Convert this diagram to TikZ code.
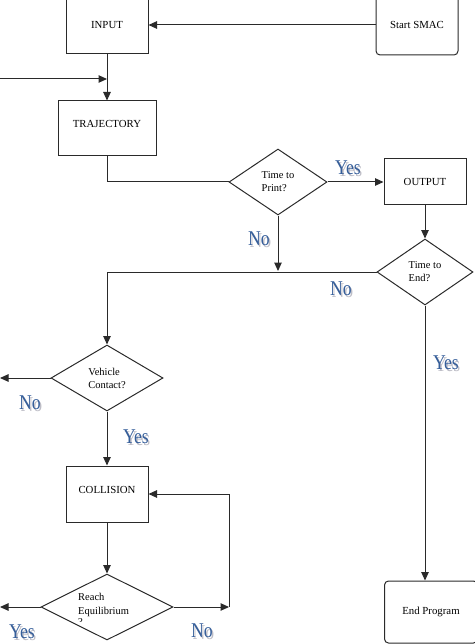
\documentclass[tikz,border=0pt]{standalone}
\usepackage{fontspec}
\setmainfont{Liberation Serif}
\usetikzlibrary{arrows.meta,shapes.geometric}
\definecolor{ln}{HTML}{2A2A2A}
\definecolor{wablue}{HTML}{355E9A}
\definecolor{washadow}{HTML}{BDBDC6}
\begin{document}
\begin{tikzpicture}[x=1pt,y=-1pt,
  every node/.style={font=\fontsize{10.8}{13}\selectfont, text=black},
  box/.style={draw=ln, line width=1pt, rectangle, inner sep=0pt, text height=7.5pt, text depth=8.5pt},
  cbox/.style={draw=ln, line width=1pt, rectangle, inner sep=0pt},
  rbox/.style={draw=ln, line width=1pt, rectangle, rounded corners=4pt, inner sep=0pt},
  dia/.style={draw=ln, line width=1pt, diamond, inner sep=0pt, align=left, font=\fontsize{10.5}{13}\selectfont},
  conn/.style={draw=ln, line width=1pt},
  arr/.style={conn, -{Triangle[length=8.5pt,width=7.5pt]}},
  yn/.style={font=\fontsize{21}{21}\selectfont, text=wablue, xscale=0.84, inner sep=0pt},
  ynsh/.style={font=\fontsize{21}{21}\selectfont, text=washadow, xscale=0.84, inner sep=0pt},
]
\useasboundingbox (0,0) rectangle (474,644);

% nodes
\node[cbox, minimum width=82pt, minimum height=58pt] (input) at (107,25) {INPUT};
\node[rbox, minimum width=82pt, minimum height=60pt] (smac) at (417,25) {Start SMAC};
\node[box, minimum width=98pt, minimum height=55pt] (traj) at (107,128.5) {TRAJECTORY};
\node[dia, minimum width=98pt, minimum height=66pt] (print) at (278,182) {Time to\\Print?};
\node[cbox, minimum width=82pt, minimum height=46pt] (out) at (425,182) {OUTPUT};
\node[dia, minimum width=96pt, minimum height=66pt] (tend) at (425,272) {Time to\\End?};
\node[dia, minimum width=112pt, minimum height=66pt] (vc) at (107,378) {Vehicle\\Contact?};
\node[box, minimum width=82pt, minimum height=56pt] (coll) at (107,494) {COLLISION};
\node[dia, minimum width=132pt, minimum height=66pt] (req) at (107,607) {};
\node[align=left, inner sep=0pt, anchor=west, font=\fontsize{10.5}{13.5}\selectfont] (reqt) at (78,605) {Reach\\Equilibrium};
\begin{scope}
  \clip (70,617) rectangle (100,621.5);
  \node[inner sep=0pt, anchor=north west, font=\fontsize{10.5}{13}\selectfont] (reqq) at (78,618.5) {?};
\end{scope}
\node[rbox, minimum width=93pt, minimum height=62pt] (endp) at (431,612) {End Program};

% coordinates
\coordinate (lin) at (0,79);
\coordinate (j1) at (107,79);
\coordinate (j2) at (278,271);
\coordinate (vcl) at (0,378);
\coordinate (reql) at (0,607);
\coordinate (reqr) at (229,607);

% connectors
\draw[arr] (smac.west) -- (input.east);
\draw[arr] (input.south) -- (traj.north);
\draw[arr] (lin) -- (j1);
\draw[conn] (traj.south) |- (print.west);
\draw[arr] (print.east) -- (out.west);
\draw[arr] (out.south) -- (tend.north);
\draw[arr] (print.south) -- (j2);
\draw[arr] (tend.west) -| (vc.north);
\draw[arr] (tend.south) -- (tend.south |- endp.north);
\draw[arr] (vc.west) -- (vcl);
\draw[arr] (vc.south) -- (coll.north);
\draw[arr] (coll.south) -- (req.north);
\draw[arr] (req.west) -- (reql);
\draw[arr] (req.east) -- (reqr);
\draw[arr] (reqr) |- (coll.east);

% Yes / No labels
\node[ynsh] (s1) at (349.5,169.5) {Yes}; \node[yn] (l1) at (348,168) {Yes};
\node[ynsh] (s2) at (260.5,240.5) {No};  \node[yn] (l2) at (259,239) {No};
\node[ynsh] (s3) at (342.5,290.5) {No};  \node[yn] (l3) at (341,289) {No};
\node[ynsh] (s4) at (447.5,364.5) {Yes}; \node[yn] (l4) at (446,363) {Yes};
\node[ynsh] (s5) at (31.5,404.5) {No};   \node[yn] (l5) at (30,403) {No};
\node[ynsh] (s6) at (137.5,438.5) {Yes}; \node[yn] (l6) at (136,437) {Yes};
\node[ynsh] (s7) at (23.5,633.5) {Yes};  \node[yn] (l7) at (22,632) {Yes};
\node[ynsh] (s8) at (203.5,632.5) {No};  \node[yn] (l8) at (202,631) {No};
\end{tikzpicture}
\end{document}
